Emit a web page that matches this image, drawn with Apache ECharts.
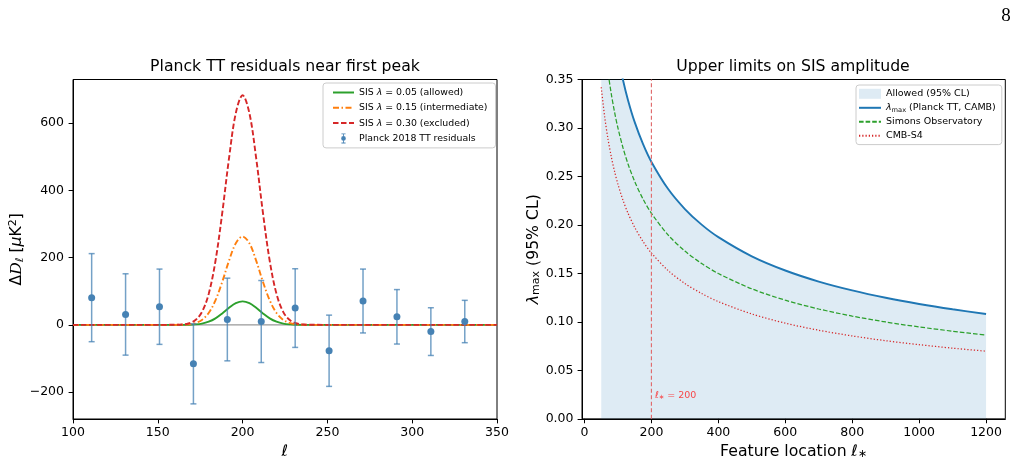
<!DOCTYPE html>
<html><head><meta charset="utf-8">
<script src="https://cdn.jsdelivr.net/npm/echarts@6/dist/echarts.min.js"></script>
<style>html,body{margin:0;padding:0;background:#fff}#c{width:1020px;height:465px}</style>
</head><body><div id="c"></div>
<script>
// ---------- Left panel data ----------
const ellPts = [111, 131, 151, 171, 191, 211, 231, 251, 271, 291, 311, 331];
const resid = [81, 31, 54, -116, 16, 10, 50, -77, 71, 24, -20, 10];
const residErr = [131, 121, 112, 119, 123, 122, 117, 106, 95, 81, 71, 63];

const ellModel = [100, 160, 164, 168, 172, 176, 180, 184, 188, 192, 196, 200, 204, 208, 212, 216, 220, 224, 228, 232, 236, 240, 350];
const sis005 = [0, 0, 0.1, 0.4, 1.4, 3.9, 9.5, 19.5, 34.1, 50.8, 64.6, 70, 64.6, 50.8, 34.1, 19.5, 9.5, 3.9, 1.4, 0.4, 0.1, 0, 0];
const sis015 = [0, 0.1, 0.4, 1.6, 5.2, 14.8, 35.5, 73, 128, 191, 243, 263, 243, 191, 128, 73, 35.5, 14.8, 5.2, 1.6, 0.4, 0.1, 0];
const sis030 = [0, 0.2, 1, 4.1, 13.5, 38, 92, 190, 333, 496, 630, 683, 630, 496, 333, 190, 92, 38, 13.5, 4.1, 1, 0.2, 0];

const leftXTicks = [100, 150, 200, 250, 300, 350];
const leftYTicks = [-200, 0, 200, 400, 600];

// ---------- Right panel data ----------
const ellFeat = [50, 60, 70, 80, 90, 100, 115, 130, 150, 175, 200, 250, 300, 350, 400, 500, 600, 700, 800, 900, 1000, 1100, 1200];
const lamPlanck = [0.530, 0.4838, 0.4479, 0.4190, 0.3950, 0.3748, 0.3495, 0.3287, 0.3060, 0.2833, 0.2650, 0.2370, 0.2164, 0.2003, 0.1874, 0.1676, 0.1530, 0.1416, 0.1325, 0.1249, 0.1185, 0.1130, 0.1082];
const lamSO = [0.424, 0.3870, 0.3583, 0.3352, 0.3160, 0.2998, 0.2796, 0.2629, 0.2448, 0.2266, 0.2120, 0.1896, 0.1731, 0.1602, 0.1499, 0.1341, 0.1224, 0.1133, 0.1060, 0.0999, 0.0948, 0.0904, 0.0865];
const lamS4 = [0.342, 0.3122, 0.2890, 0.2704, 0.2549, 0.2418, 0.2255, 0.2121, 0.1975, 0.1828, 0.1710, 0.1529, 0.1396, 0.1293, 0.1209, 0.1082, 0.0987, 0.0914, 0.0855, 0.0806, 0.0765, 0.0729, 0.0698];

const rightXTicks = [0, 200, 400, 600, 800, 1000, 1200];
const ellStar = 200;

// ---------- build ----------
const FONT = 'DejaVu Sans';
const BIG = 15.7;
const zip = (a, b) => a.map((v, i) => [v, b[i]]);

function richSet(size, color) {
  return {
    i: {fontStyle: 'italic', fontSize: size, fontFamily: FONT, color: color},
    n: {fontSize: size, fontFamily: FONT, color: color},
    s: {fontSize: size * 0.7, fontFamily: FONT, color: color, verticalAlign: 'bottom', padding: [size * 0.35, 0, 0, 0]},
    p: {fontSize: size * 0.7, fontFamily: FONT, color: color, verticalAlign: 'top', padding: [0, 0, size * 0.45, 0]},
    sr: {fontSize: size, fontFamily: 'DejaVu Serif', fontStyle: 'italic', color: color}
  };
}

const axisCommon = {
  axisLine: {show: true, onZero: false, lineStyle: {color: '#000', width: 1}},
  axisTick: {show: true, inside: false, length: 4.4, lineStyle: {color: '#000', width: 1}},
  splitLine: {show: false}
};

const chart = echarts.init(document.getElementById('c'), null, {renderer: 'canvas'});

const errIcon = 'path://M0,0L0.01,0L0.01,0.01Z M21,12L20.99,12L20.99,11.99Z M8,0H13V1H11V11H13V12H8V11H10V1H8Z M13.3,6A2.8,2.8,0,1,1,7.7,6A2.8,2.8,0,1,1,13.3,6Z';

const legendFormatter = name => {
  if (name.indexOf('λmax') === 0) return '{i|λ}{s|max}' + name.slice(4);
  return name.replace('λ', '{i|λ}');
};
const hideSym = {opacity: 0};

const option = {
  animation: false,
  textStyle: {fontFamily: FONT},
  grid: [
    {left: 73, right: 523, top: 79.5, bottom: 45, show: true, borderColor: '#000', borderWidth: 1, backgroundColor: 'transparent'},
    {left: 582, right: 14.7, top: 79.5, bottom: 45, show: true, borderColor: '#000', borderWidth: 1, backgroundColor: 'transparent'}
  ],
  xAxis: [
    Object.assign({}, axisCommon, {
      type: 'value', gridIndex: 0, min: 100, max: 350, interval: 50,
      axisLabel: {color: '#000', fontSize: 12.5, margin: 7, fontFamily: FONT},
      name: '{i|ℓ}', nameLocation: 'middle', nameGap: 25,
      nameTextStyle: {fontSize: BIG, color: '#000', rich: richSet(BIG, '#000')}
    }),
    Object.assign({}, axisCommon, {
      type: 'value', gridIndex: 1, min: -7.5, max: 1257.5,
      axisLabel: {color: '#000', fontSize: 12.5, margin: 7, fontFamily: FONT, customValues: rightXTicks, formatter: v => String(v)},
      axisTick: {show: true, inside: false, length: 4.4, lineStyle: {color: '#000', width: 1}, customValues: rightXTicks},
      name: 'Feature location {i|ℓ}{s|∗}', nameLocation: 'middle', nameGap: 24,
      nameTextStyle: {fontSize: BIG, color: '#000', rich: richSet(BIG, '#000')}
    })
  ],
  yAxis: [
    Object.assign({}, axisCommon, {
      type: 'value', gridIndex: 0, min: -280, max: 730,
      axisLabel: {color: '#000', fontSize: 12.5, margin: 9, fontFamily: FONT, customValues: leftYTicks,
        formatter: v => (v < 0 ? '−' + Math.abs(v) : String(v))},
      axisTick: {show: true, inside: false, length: 4.4, lineStyle: {color: '#000', width: 1}, customValues: leftYTicks},
      name: '{n|Δ}{sr|D}{s|ℓ}{n| [}{i|μ}{n|K}{p|2}{n|]}', nameLocation: 'middle', nameGap: 46, nameRotate: 90,
      nameTextStyle: {fontSize: BIG, color: '#000', rich: richSet(BIG, '#000')}
    }),
    Object.assign({}, axisCommon, {
      type: 'value', gridIndex: 1, min: 0, max: 0.35, interval: 0.05,
      axisLabel: {color: '#000', fontSize: 12.5, margin: 8.5, fontFamily: FONT, formatter: v => v.toFixed(2)},
      name: '{i|λ}{s|max}{n| (95% CL)}', nameLocation: 'middle', nameGap: 34, nameRotate: 90,
      nameTextStyle: {fontSize: BIG, color: '#000', rich: richSet(BIG, '#000')}
    })
  ],
  legend: [
    {
      left: 323, top: 83, orient: 'vertical', align: 'left',
      padding: [4, 8, 4, 9], itemWidth: 21, itemHeight: 10, itemGap: 4.3,
      backgroundColor: 'rgba(255,255,255,0.8)', borderColor: '#cccccc', borderWidth: 1, borderRadius: 3,
      textStyle: {fontSize: 9.4, fontFamily: FONT, color: '#000', lineHeight: 11, rich: richSet(9.4, '#000')},
      formatter: legendFormatter,
      data: [
        {name: 'SIS λ = 0.05 (allowed)', itemStyle: hideSym},
        {name: 'SIS λ = 0.15 (intermediate)', itemStyle: hideSym},
        {name: 'SIS λ = 0.30 (excluded)', itemStyle: hideSym},
        {name: 'Planck 2018 TT residuals', icon: errIcon, itemStyle: {color: '#4682b4'}}
      ]
    },
    {
      left: 856, top: 85, orient: 'vertical', align: 'left',
      padding: [3.3, 6, 3.3, 2], itemWidth: 22, itemHeight: 10, itemGap: 3,
      backgroundColor: 'rgba(255,255,255,0.8)', borderColor: '#cccccc', borderWidth: 1, borderRadius: 3,
      textStyle: {fontSize: 9.5, fontFamily: FONT, color: '#000', lineHeight: 11, rich: richSet(9.5, '#000')},
      formatter: legendFormatter,
      data: [
        {name: 'Allowed (95% CL)', icon: 'rect', itemStyle: {color: 'rgba(31,119,180,0.15)', borderWidth: 0}},
        {name: 'λmax (Planck TT, CAMB)', itemStyle: hideSym},
        {name: 'Simons Observatory', itemStyle: hideSym},
        {name: 'CMB-S4', itemStyle: hideSym}
      ]
    }
  ],
  graphic: [
    {type: 'text', x: 285, y: 67, style: {text: 'Planck TT residuals near first peak', align: 'center', verticalAlign: 'middle', fontSize: BIG, fontFamily: FONT, fill: '#000'}},
    {type: 'text', x: 793, y: 67, style: {text: 'Upper limits on SIS amplitude', align: 'center', verticalAlign: 'middle', fontSize: BIG, fontFamily: FONT, fill: '#000'}},
    {type: 'text', x: 1006, y: 16, style: {text: '8', align: 'center', verticalAlign: 'middle', fontSize: 19, fontFamily: 'Liberation Serif', fill: '#000'}}
  ],
  series: [
    {
      name: '_zero', type: 'line', xAxisIndex: 0, yAxisIndex: 0, data: [[100, 0], [350, 0]],
      symbol: 'none', silent: true, z: 1, lineStyle: {color: '#999999', width: 1.3}
    },
    {
      name: 'SIS λ = 0.05 (allowed)', type: 'line', xAxisIndex: 0, yAxisIndex: 0, data: zip(ellModel, sis005),
      symbol: 'none', smooth: 0.35, z: 3, color: '#2ca02c', lineStyle: {color: '#2ca02c', width: 1.9}
    },
    {
      name: 'SIS λ = 0.15 (intermediate)', type: 'line', xAxisIndex: 0, yAxisIndex: 0, data: zip(ellModel, sis015),
      symbol: 'none', smooth: 0.35, z: 3, color: '#ff7f0e', lineStyle: {color: '#ff7f0e', width: 1.9, type: [6, 2.5, 1.5, 2.5]}
    },
    {
      name: 'SIS λ = 0.30 (excluded)', type: 'line', xAxisIndex: 0, yAxisIndex: 0, data: zip(ellModel, sis030),
      symbol: 'none', smooth: 0.35, z: 3, color: '#d62728', lineStyle: {color: '#d62728', width: 1.9, type: [5.5, 2.5]}
    },
    {
      name: 'Planck 2018 TT residuals', type: 'custom', xAxisIndex: 0, yAxisIndex: 0, z: 4,
      color: '#4682b4',
      data: ellPts.map((x, i) => [x, resid[i], residErr[i]]),
      renderItem: function (params, api) {
        const x = api.value(0), y = api.value(1), e = api.value(2);
        const top = api.coord([x, y + e]);
        const bot = api.coord([x, y - e]);
        const cw = 3;
        const st = {stroke: 'rgba(70,130,180,0.75)', lineWidth: 1.5, fill: null};
        return {
          type: 'group',
          children: [
            {type: 'line', shape: {x1: top[0], y1: top[1], x2: bot[0], y2: bot[1]}, style: st},
            {type: 'line', shape: {x1: top[0] - cw, y1: top[1], x2: top[0] + cw, y2: top[1]}, style: st},
            {type: 'line', shape: {x1: bot[0] - cw, y1: bot[1], x2: bot[0] + cw, y2: bot[1]}, style: st}
          ]
        };
      }
    },
    {
      name: 'Planck 2018 TT residuals', type: 'scatter', xAxisIndex: 0, yAxisIndex: 0, z: 5,
      data: zip(ellPts, resid), symbol: 'circle', symbolSize: 7, itemStyle: {color: '#4682b4', opacity: 1}
    },
    // right panel
    {
      name: 'Allowed (95% CL)', type: 'line', xAxisIndex: 1, yAxisIndex: 1, data: zip(ellFeat, lamPlanck),
      symbol: 'none', smooth: 0.3, z: 1, lineStyle: {width: 0, opacity: 0},
      color: 'rgba(31,119,180,0.15)',
      areaStyle: {color: 'rgba(31,119,180,0.15)', opacity: 1}
    },
    {
      name: 'λmax (Planck TT, CAMB)', type: 'line', xAxisIndex: 1, yAxisIndex: 1, data: zip(ellFeat, lamPlanck),
      symbol: 'none', smooth: 0.3, z: 3, color: '#1f77b4', lineStyle: {color: '#1f77b4', width: 1.9}
    },
    {
      name: 'Simons Observatory', type: 'line', xAxisIndex: 1, yAxisIndex: 1, data: zip(ellFeat, lamSO),
      symbol: 'none', smooth: 0.3, z: 3, color: '#2ca02c', lineStyle: {color: '#2ca02c', width: 1.25, type: [4.6, 2]}
    },
    {
      name: 'CMB-S4', type: 'line', xAxisIndex: 1, yAxisIndex: 1, data: zip(ellFeat, lamS4),
      symbol: 'none', smooth: 0.3, z: 3, color: '#d62728', lineStyle: {color: '#d62728', width: 1.25, type: [1.25, 2]}
    },
    {
      name: '_vline', type: 'line', xAxisIndex: 1, yAxisIndex: 1, data: [[ellStar, 0], [ellStar, 0.35]],
      symbol: 'none', silent: true, z: 4, lineStyle: {color: '#e06c6e', width: 1.2, type: [4, 2.5]}
    },
    {
      name: '_label', type: 'scatter', xAxisIndex: 1, yAxisIndex: 1, data: [[ellStar + 10, 0.024]],
      symbolSize: 0, silent: true, z: 4,
      label: {show: true, position: 'right', distance: 0, formatter: '{i|ℓ}{s|∗}{n| = 200}',
        rich: richSet(9.5, '#ff1a1a')}
    }
  ]
};
chart.setOption(option);
</script>
</body></html>
